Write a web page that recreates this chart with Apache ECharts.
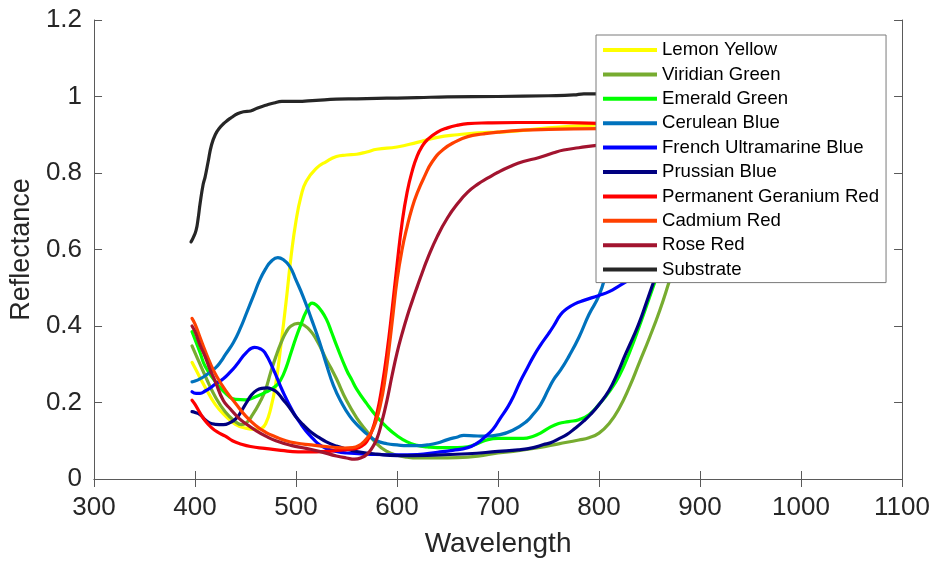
<!DOCTYPE html>
<html>
<head>
<meta charset="utf-8">
<script src="https://cdn.jsdelivr.net/npm/echarts@6/dist/echarts.min.js"></script>
<style>
  html, body { margin: 0; padding: 0; background: #fff; }
  #chart { width: 933px; height: 563px; }
</style>
</head>
<body>
<div id="chart"></div>
<script>
// Spectral reflectance curves of paint pigments and the bare substrate.
// Each array holds [wavelength (nm), reflectance] samples.
const lemonYellow = [[397,0.305],[400,0.29],[410,0.24],[420,0.195],[430,0.165],[440,0.143],[450,0.133],[460,0.13],[466,0.133],[470,0.145],[475,0.185],[480,0.25],[485,0.35],[490,0.46],[495,0.58],[500,0.675],[505,0.74],[510,0.778],[520,0.812],[530,0.83],[540,0.843],[550,0.847],[560,0.849],[570,0.855],[580,0.862],[600,0.868],[620,0.88],[640,0.893],[660,0.9],[680,0.905],[700,0.907],[720,0.91],[750,0.918],[800,0.926],[850,0.93],[880,0.93]];

const viridianGreen = [[397,0.348],[400,0.33],[410,0.27],[420,0.215],[430,0.175],[440,0.15],[446,0.142],[450,0.145],[457,0.168],[465,0.205],[470,0.235],[475,0.28],[480,0.32],[485,0.355],[490,0.383],[495,0.4],[502,0.407],[508,0.402],[515,0.385],[520,0.365],[525,0.34],[530,0.312],[535,0.288],[540,0.262],[550,0.205],[560,0.16],[570,0.125],[580,0.092],[590,0.072],[600,0.062],[610,0.057],[620,0.055],[640,0.055],[660,0.056],[680,0.06],[700,0.068],[720,0.074],[740,0.082],[760,0.092],[780,0.102],[790,0.108],[800,0.12],[810,0.145],[820,0.185],[830,0.24],[840,0.305],[850,0.37],[860,0.44],[870,0.52],[880,0.6]];

const emeraldGreen = [[397,0.385],[400,0.365],[405,0.33],[410,0.295],[420,0.255],[430,0.225],[440,0.208],[450,0.207],[460,0.215],[470,0.227],[480,0.243],[485,0.26],[490,0.29],[495,0.33],[500,0.37],[505,0.405],[510,0.437],[516,0.46],[520,0.455],[525,0.44],[530,0.418],[535,0.385],[540,0.35],[550,0.285],[555,0.26],[560,0.235],[570,0.197],[580,0.163],[590,0.135],[600,0.113],[610,0.097],[620,0.088],[630,0.084],[640,0.082],[660,0.082],[670,0.084],[680,0.093],[690,0.103],[700,0.106],[710,0.106],[725,0.106],[735,0.112],[742,0.12],[750,0.133],[760,0.145],[770,0.15],[780,0.155],[790,0.168],[800,0.195],[810,0.228],[820,0.27],[830,0.33],[840,0.4],[850,0.475],[860,0.55],[870,0.62],[880,0.68]];

const ceruleanBlue = [[397,0.254],[400,0.256],[405,0.262],[410,0.27],[420,0.29],[425,0.305],[430,0.325],[438,0.357],[445,0.395],[451,0.434],[458,0.48],[464,0.52],[470,0.55],[475,0.568],[482,0.579],[488,0.572],[494,0.555],[500,0.52],[507,0.477],[515,0.42],[523,0.36],[530,0.3],[537,0.245],[545,0.2],[553,0.165],[561,0.14],[570,0.118],[578,0.102],[590,0.092],[600,0.089],[610,0.087],[620,0.087],[630,0.089],[640,0.094],[650,0.103],[660,0.11],[666,0.114],[676,0.113],[686,0.112],[702,0.116],[715,0.128],[728,0.15],[735,0.17],[742,0.194],[750,0.235],[755,0.26],[762,0.285],[770,0.32],[780,0.37],[790,0.43],[800,0.48],[810,0.56],[820,0.62],[840,0.7],[860,0.74],[880,0.76]];

const frenchUltramarineBlue = [[397,0.228],[401,0.224],[405,0.224],[410,0.23],[415,0.238],[420,0.248],[428,0.262],[435,0.28],[441,0.298],[451,0.331],[459,0.344],[465,0.34],[469,0.331],[477,0.29],[487,0.228],[497,0.176],[505,0.143],[510,0.125],[517,0.105],[523,0.09],[530,0.08],[540,0.072],[550,0.068],[570,0.065],[600,0.063],[620,0.064],[640,0.07],[655,0.075],[670,0.082],[680,0.095],[686,0.108],[695,0.13],[702,0.158],[710,0.19],[716,0.22],[722,0.255],[729,0.29],[735,0.32],[742,0.35],[750,0.38],[755,0.4],[762,0.43],[768,0.445],[776,0.458],[785,0.467],[800,0.48],[810,0.49],[820,0.505],[830,0.52],[840,0.532],[860,0.56],[880,0.6]];

const prussianBlue = [[397,0.176],[400,0.174],[405,0.168],[410,0.155],[415,0.146],[420,0.143],[428,0.142],[435,0.148],[441,0.159],[446,0.178],[451,0.2],[456,0.22],[461,0.232],[466,0.237],[471,0.238],[476,0.235],[481,0.227],[487,0.208],[494,0.185],[500,0.162],[507,0.142],[515,0.122],[523,0.108],[530,0.097],[540,0.086],[550,0.078],[560,0.072],[580,0.065],[600,0.061],[630,0.062],[670,0.066],[700,0.072],[720,0.076],[735,0.082],[745,0.09],[752,0.095],[760,0.105],[768,0.116],[776,0.132],[785,0.152],[792,0.17],[800,0.195],[810,0.232],[818,0.275],[826,0.325],[834,0.372],[840,0.41],[847,0.462],[854,0.515],[860,0.56],[870,0.63],[880,0.7]];

const permanentGeraniumRed = [[397,0.206],[400,0.195],[405,0.172],[410,0.152],[416,0.135],[422,0.123],[430,0.112],[437,0.1],[446,0.091],[455,0.085],[469,0.08],[485,0.075],[502,0.071],[520,0.071],[535,0.073],[551,0.077],[560,0.08],[565,0.086],[570,0.098],[575,0.125],[580,0.17],[585,0.24],[590,0.33],[595,0.44],[600,0.56],[605,0.67],[610,0.75],[615,0.805],[620,0.845],[625,0.87],[630,0.887],[640,0.907],[650,0.918],[660,0.925],[670,0.929],[690,0.931],[720,0.932],[760,0.932],[800,0.93],[880,0.93]];

const cadmiumRed = [[397,0.42],[400,0.405],[405,0.37],[410,0.335],[415,0.303],[420,0.275],[430,0.232],[440,0.198],[450,0.165],[460,0.14],[470,0.122],[480,0.11],[490,0.1],[500,0.094],[515,0.089],[525,0.086],[537,0.083],[548,0.081],[556,0.082],[562,0.087],[568,0.1],[574,0.12],[579,0.15],[584,0.2],[588,0.26],[592,0.34],[596,0.43],[600,0.52],[605,0.6],[610,0.66],[615,0.71],[620,0.748],[627,0.79],[635,0.83],[646,0.862],[658,0.882],[670,0.895],[685,0.902],[700,0.907],[725,0.912],[750,0.914],[800,0.916],[880,0.918]];

const roseRed = [[397,0.4],[400,0.385],[405,0.35],[410,0.32],[415,0.285],[420,0.255],[428,0.205],[435,0.183],[443,0.16],[450,0.145],[460,0.127],[470,0.112],[480,0.1],[495,0.088],[510,0.08],[525,0.071],[540,0.06],[550,0.055],[558,0.052],[565,0.056],[570,0.064],[575,0.08],[580,0.105],[585,0.15],[590,0.205],[595,0.27],[600,0.33],[605,0.38],[610,0.425],[615,0.465],[620,0.503],[625,0.54],[630,0.575],[640,0.635],[650,0.683],[660,0.72],[670,0.75],[680,0.771],[690,0.787],[700,0.802],[712,0.817],[725,0.83],[740,0.84],[755,0.853],[765,0.86],[780,0.866],[800,0.873],[840,0.88],[880,0.885]];

const substrate = [[396,0.62],[398,0.63],[401,0.65],[403,0.68],[405,0.72],[408,0.77],[410,0.79],[413,0.83],[416,0.87],[420,0.9],[425,0.92],[430,0.933],[436,0.945],[442,0.955],[448,0.96],[455,0.962],[462,0.97],[470,0.977],[478,0.983],[486,0.987],[500,0.987],[520,0.99],[540,0.993],[560,0.994],[580,0.995],[600,0.996],[620,0.997],[650,0.999],[700,1.0],[750,1.002],[775,1.004],[785,1.007],[800,1.007],[850,1.01],[880,1.01]];

const seriesNames = ['Lemon Yellow','Viridian Green','Emerald Green','Cerulean Blue','French Ultramarine Blue','Prussian Blue','Permanent Geranium Red','Cadmium Red','Rose Red','Substrate'];
const seriesData = [lemonYellow, viridianGreen, emeraldGreen, ceruleanBlue, frenchUltramarineBlue, prussianBlue, permanentGeraniumRed, cadmiumRed, roseRed, substrate];
const seriesColors = ['#FFFF00','#77AC30','#00FF00','#0072BD','#0000FF','#000080','#FF0000','#FF4000','#A2142F','#262626'];

const xTicks = { min: 300, max: 1100, interval: 100 };
const yTicks = { min: 0, max: 1.2, interval: 0.2 };

const FONT = '"Liberation Sans", Arial, Helvetica, sans-serif';
const TEXT = '#262626';
const AXIS = '#5a5a5a';

const chart = echarts.init(document.getElementById('chart'), null, { renderer: 'canvas' });

const frameAxis = (extra) => Object.assign({
  type: 'value',
  axisLine: { show: true, lineStyle: { color: AXIS, width: 1 } },
  axisTick: { show: true, inside: true, length: 8, lineStyle: { color: AXIS } },
  splitLine: { show: false }
}, extra);

// plain numbers, no thousands separators
const plain = (v) => String(+v.toFixed(2));

chart.setOption({
  animation: false,
  backgroundColor: '#fff',
  grid: { left: 92, right: 30, top: 20, bottom: 77, containLabel: false },
  xAxis: [
    frameAxis({
      position: 'bottom', min: xTicks.min, max: xTicks.max, interval: xTicks.interval,
      name: 'Wavelength', nameLocation: 'middle', nameGap: 51,
      nameTextStyle: { fontFamily: FONT, fontSize: 28, color: TEXT },
      axisLabel: { fontFamily: FONT, fontSize: 26, color: TEXT, margin: 16, formatter: plain }
    }),
    frameAxis({
      position: 'top', min: xTicks.min, max: xTicks.max, interval: xTicks.interval,
      axisLabel: { show: false }
    })
  ],
  yAxis: [
    frameAxis({
      position: 'left', min: yTicks.min, max: yTicks.max, interval: yTicks.interval,
      name: 'Reflectance', nameLocation: 'middle', nameGap: 52,
      nameTextStyle: { fontFamily: FONT, fontSize: 27, color: TEXT },
      axisLabel: { fontFamily: FONT, fontSize: 26, color: TEXT, margin: 12, formatter: plain }
    }),
    frameAxis({
      position: 'right', min: yTicks.min, max: yTicks.max, interval: yTicks.interval,
      axisLabel: { show: false }
    })
  ],
  legend: {
    orient: 'vertical',
    left: 596, top: 35,
    z: 10,
    backgroundColor: '#fff',
    borderColor: '#7a7a7a', borderWidth: 1, borderRadius: 0,
    padding: [5, 7, 3, 7],
    itemWidth: 54, itemHeight: 4, itemGap: 4.4,
    icon: 'rect',
    textStyle: { fontFamily: FONT, fontSize: 18.6, lineHeight: 20, color: '#000' },
    data: seriesNames
  },
  series: seriesNames.map((name, i) => ({
    name,
    type: 'line',
    data: seriesData[i],
    showSymbol: false,
    smooth: 0.5,
    color: seriesColors[i],
    lineStyle: { width: 3.2, color: seriesColors[i], cap: 'round', join: 'round' },
    emphasis: { disabled: true },
    z: 2 + i * 0.01
  }))
});
</script>
</body>
</html>
